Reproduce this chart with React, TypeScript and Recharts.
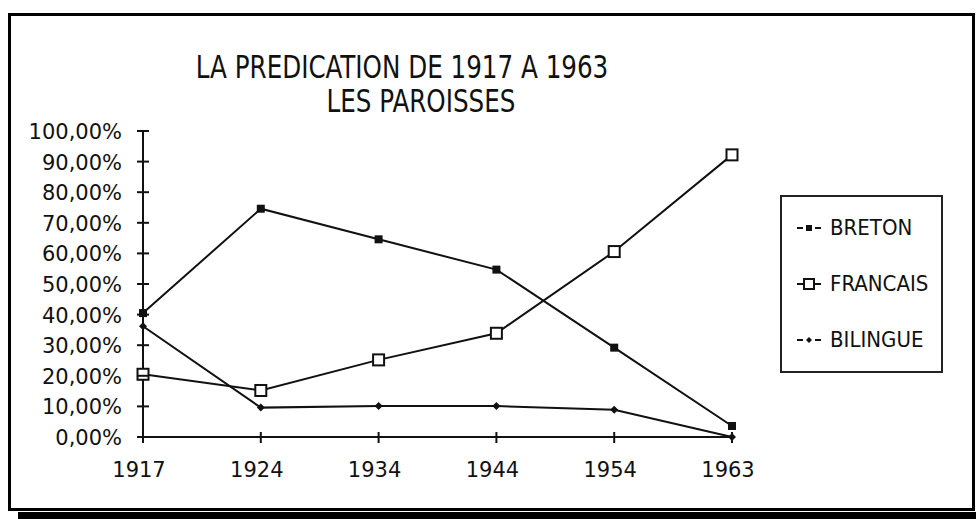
import React from 'react';
import { LineChart, Line, XAxis, YAxis } from 'recharts';

const years = ['1917', '1924', '1934', '1944', '1954', '1963'];
const breton = [40.5, 74.6, 64.6, 54.7, 29.2, 3.6];
const francais = [20.5, 15.2, 25.2, 33.9, 60.6, 92.2];
const bilingue = [36.2, 9.6, 10.1, 10.1, 8.9, 0];
const yTicks = [0, 10, 20, 30, 40, 50, 60, 70, 80, 90, 100];
const titleLines = ['LA PREDICATION DE 1917 A 1963', 'LES PAROISSES'];
const seriesNames = ['BRETON', 'FRANCAIS', 'BILINGUE'];

const data = years.map((y, i) => ({
  year: y,
  BRETON: breton[i],
  FRANCAIS: francais[i],
  BILINGUE: bilingue[i],
}));

const INK = '#111';
const TICK_FONT = '"DejaVu Sans", Verdana, sans-serif';
const NARROW = '"Liberation Sans Narrow", "Arial Narrow", "DejaVu Sans Condensed", sans-serif';

const fmtPct = (v: number) => v.toFixed(2).replace('.', ',') + '%';

const YTick = (props: any) => {
  const { x, y, payload } = props;
  return (
    <g>
      <line x1={x + 15} x2={x + 27} y1={y} y2={y} stroke={INK} strokeWidth={2} />
      <text x={x} y={y} dy={8} textAnchor="end" fontFamily={TICK_FONT} fontSize={21} fill={INK}>
        {fmtPct(payload.value)}
      </text>
    </g>
  );
};

const XTick = (props: any) => {
  const { x, y, payload } = props;
  return (
    <g>
      <line x1={x} x2={x} y1={y - 15} y2={y - 4} stroke={INK} strokeWidth={2} />
      <text x={x} y={y} dx={-4} dy={30} textAnchor="middle" fontFamily={TICK_FONT} fontSize={21} fill={INK}>
        {payload.value}
      </text>
    </g>
  );
};

const SquareDot = (props: any) => {
  const { cx, cy } = props;
  if (cx == null || cy == null) return null;
  return <rect x={cx - 4} y={cy - 4} width={8} height={8} fill={INK} />;
};
const OpenSquareDot = (props: any) => {
  const { cx, cy } = props;
  if (cx == null || cy == null) return null;
  return <rect x={cx - 5.5} y={cy - 5.5} width={11} height={11} fill="#fff" stroke={INK} strokeWidth={2} />;
};
const DiamondDot = (props: any) => {
  const { cx, cy } = props;
  if (cx == null || cy == null) return null;
  return <path d={`M${cx},${cy - 4}L${cx + 4},${cy}L${cx},${cy + 4}L${cx - 4},${cy}Z`} fill={INK} />;
};

const LegendSymbol = ({ kind }: { kind: number }) => (
  <svg width={24} height={14} style={{ display: 'block' }}>
    {kind === 1 ? (
      <>
        <line x1={0} x2={24} y1={7} y2={7} stroke={INK} strokeWidth={2} />
        <rect x={7} y={2} width={10} height={10} fill="#fff" stroke={INK} strokeWidth={2} />
      </>
    ) : (
      <>
        <line x1={0} x2={6} y1={7} y2={7} stroke={INK} strokeWidth={2} />
        <line x1={18} x2={24} y1={7} y2={7} stroke={INK} strokeWidth={2} />
        {kind === 0 ? (
          <rect x={9} y={4} width={6} height={6} fill={INK} />
        ) : (
          <path d="M12,4L15,7L12,10L9,7Z" fill={INK} />
        )}
      </>
    )}
  </svg>
);

const titleCenters = [402, 421];

export default function App() {
  return (
    <div style={{ position: 'absolute', left: 0, top: 0, width: 976, height: 519, background: '#fff', overflow: 'hidden' }}>
      <div
        style={{
          position: 'absolute', left: 8, top: 13, width: 967, height: 498,
          border: '3px solid #000', boxSizing: 'border-box',
        }}
      />
      <div style={{ position: 'absolute', left: 18, top: 512, width: 958, height: 7, background: '#000' }} />
      {titleLines.map((t, i) => (
        <div
          key={t}
          style={{
            position: 'absolute', left: titleCenters[i] - 300, width: 600, top: 51 + i * 34, textAlign: 'center',
            fontFamily: NARROW, fontSize: 32, lineHeight: '32px', color: INK, whiteSpace: 'nowrap',
            transform: 'scaleX(0.855)', transformOrigin: '50% 50%',
          }}
        >
          {t}
        </div>
      ))}
      <div style={{ position: 'absolute', left: 0, top: 0 }}>
        <LineChart
          width={976}
          height={519}
          data={data}
          margin={{ top: 131, right: 244, bottom: 42, left: 83 }}
        >
          <XAxis
            dataKey="year"
            height={40}
            axisLine={{ stroke: INK, strokeWidth: 2 }}
            tickLine={false}
            tickSize={0}
            tickMargin={10}
            tick={<XTick />}
            interval={0}
          />
          <YAxis
            width={60}
            domain={[0, 100]}
            ticks={yTicks}
            axisLine={{ stroke: INK, strokeWidth: 2 }}
            tickLine={false}
            tickSize={0}
            tickMargin={21}
            tick={<YTick />}
            interval={0}
          />
          <Line dataKey="BILINGUE" stroke={INK} strokeWidth={2} dot={<DiamondDot />} isAnimationActive={false} />
          <Line dataKey="BRETON" stroke={INK} strokeWidth={2} dot={<SquareDot />} isAnimationActive={false} />
          <Line dataKey="FRANCAIS" stroke={INK} strokeWidth={2} dot={<OpenSquareDot />} isAnimationActive={false} />
        </LineChart>
      </div>
      <div
        style={{
          position: 'absolute', left: 780, top: 195, width: 163, height: 178,
          border: '2px solid #222', boxSizing: 'border-box',
        }}
      />
      {seriesNames.map((n, i) => (
        <div
          key={n}
          style={{
            position: 'absolute', left: 797, top: 217 + i * 56, height: 22, display: 'flex', alignItems: 'center',
          }}
        >
          <LegendSymbol kind={i} />
          <span style={{ marginLeft: 9, fontFamily: NARROW, fontSize: 22, color: INK, lineHeight: '22px' }}>{n}</span>
        </div>
      ))}
    </div>
  );
}
